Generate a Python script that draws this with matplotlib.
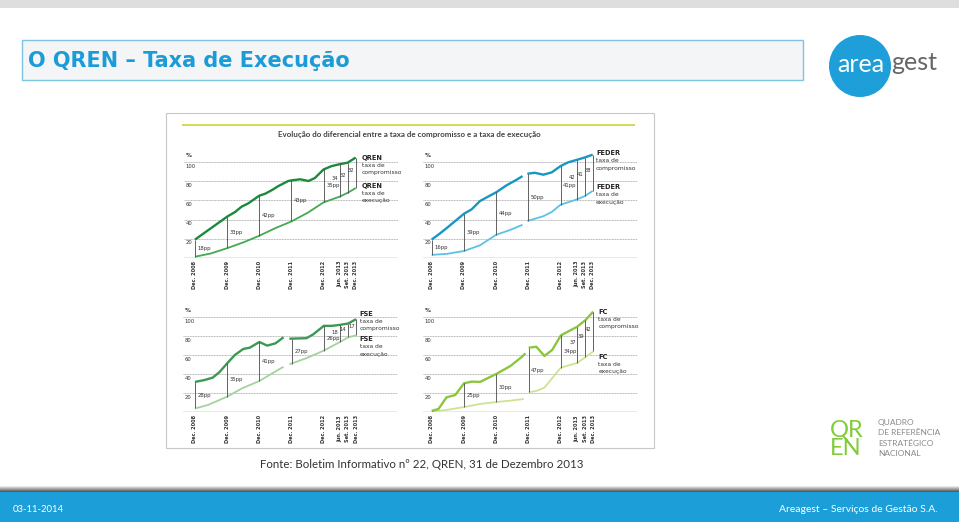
import matplotlib
matplotlib.use("Agg")
import matplotlib.pyplot as plt
import numpy as np
from matplotlib.patches import Rectangle, Circle

plt.rcParams["font.family"] = ["Liberation Sans Narrow", "DejaVu Sans"]

W, H = 959, 522

# dates in years after Dec. 2008
dates = [0, 1, 2, 3, 4, 4.5, 4.75, 5]
date_labels = ["Dec. 2008", "Dec. 2009", "Dec. 2010", "Dec. 2011", "Dec. 2012",
               "Jun. 2013", "Set. 2013", "Dec. 2013"]
y_ticks = [20, 40, 60, 80, 100]

# QREN
qren_comp_x = [0, 0.25, 0.5, 0.75, 1, 1.25, 1.45, 1.66, 2, 2.18, 2.4, 2.59, 2.9, 3, 3.27, 3.53, 3.73, 4, 4.25, 4.5, 4.75, 5]
qren_comp_y = [19, 25, 31, 37, 43, 48, 53.5, 57, 65, 67, 71, 75, 80.4, 81, 82.2, 80.4, 83.5, 92.5, 96, 98, 99.6, 105]
qren_exec_x = [0, 0.5, 1, 1.5, 2, 2.5, 3, 3.5, 4, 4.5, 4.75, 5]
qren_exec_y = [1, 4.5, 10, 16, 23, 31, 38, 47, 58, 64, 68, 73]
qren_pp = ["18pp", "33pp", "42pp", "43pp", "35pp", "34", "32", "32"]

# FEDER
feder_comp_x = [0, 0.26, 0.5, 0.75, 1, 1.24, 1.5, 1.75, 2, 2.33, 2.6, 2.82, None, 2.97, 3.2, 3.47, 3.73, 4, 4.24, 4.5, 4.75, 5]
feder_comp_y = [19, 25.5, 32, 39, 46, 50.7, 59.4, 64, 68.5, 76, 81, 85.5, None, 88, 89, 87, 89.5, 96, 100, 102.5, 105, 108]
feder_exec_x = [0, 0.47, 1, 1.5, 2, 2.43, 2.82, None, 2.97, 3.47, 3.73, 4, 4.5, 4.75, 5]
feder_exec_y = [3, 4, 7, 13, 24, 29, 34.5, None, 38.5, 43.5, 48, 55.5, 61, 64.5, 70]
feder_pp = ["16pp", "39pp", "44pp", "50pp", "41pp", "42", "41", "38"]

# FSE
fse_comp_x = [0, 0.3, 0.55, 0.75, 1, 1.24, 1.5, 1.7, 2, 2.24, 2.5, 2.75, None, 2.93, 3.46, 3.67, 4, 4.24, 4.5, 4.76, 5]
fse_comp_y = [32, 34, 36.5, 42, 51.6, 60.4, 66.7, 68, 74, 70.2, 72.6, 79, None, 77.5, 78, 82, 91, 91, 92, 93.5, 98]
fse_exec_x = [0, 0.4, 1, 1.45, 2, 2.4, 2.75, None, 2.93, 3.5, 4, 4.5, 4.76, 5]
fse_exec_y = [4, 7.7, 16.5, 25, 33, 41, 48, None, 50.5, 57.5, 65, 74, 79, 81]
fse_pp = ["28pp", "35pp", "41pp", "27pp", "26pp", "18", "14", "17"]

# FC
fc_comp_x = [0, 0.21, 0.46, 0.73, 1, 1.24, 1.5, 2, 2.44, 2.8, 2.9, None, 3, 3.24, 3.49, 3.73, 4, 4.5, 4.76, 5]
fc_comp_y = [1.5, 3.5, 15.8, 18.2, 30.5, 32.3, 32, 40.4, 48.8, 58.6, 62, None, 68, 69, 59.3, 65.6, 81, 90, 97, 106]
fc_exec_x = [0, 0.46, 1, 1.5, 2, 2.44, 2.85, None, 3, 3.24, 3.49, 4, 4.5, 4.76, 5]
fc_exec_y = [0.7, 2.5, 5.5, 8.8, 10.8, 12.3, 14, None, 21, 22.5, 26, 47, 52, 58, 64]
fc_pp = ["", "25pp", "30pp", "47pp", "34pp", "37", "39", "42"]


fig = plt.figure(figsize=(W / 100, H / 100), dpi=100)
fig.patch.set_facecolor("white")

# background axes in pixel coordinates
bg = fig.add_axes([0, 0, 1, 1])
bg.set_xlim(0, W)
bg.set_ylim(H, 0)
bg.axis("off")

# top grey band
bg.add_patch(Rectangle((0, 0), W, 8, color="#dedede", lw=0))

# title box
bg.add_patch(Rectangle((22, 40), 781, 40, facecolor="#f3f5f6", edgecolor="#7cc4e2", lw=1))
bg.text(28, 61, "O QREN – Taxa de Execução", fontsize=15, weight="bold", color="#1b9bd7",
        va="center", ha="left", family=["DejaVu Sans"])

# areagest logo
bg.add_patch(Circle((860, 66), 31, color="#1f9fda", lw=0))
bg.text(861, 64, "area", fontsize=18, color="white", ha="center", va="center",
        family=["Lato", "DejaVu Sans"])
bg.text(891, 63, "gest", fontsize=18, color="#666666", ha="left", va="center",
        family=["Lato", "DejaVu Sans"])

# image panel
bg.add_patch(Rectangle((166, 113), 488, 335, facecolor="white", edgecolor="#c8c8c8", lw=0.8))
bg.plot([183, 634], [125, 125], color="#d3da52", lw=1.4)
bg.text(409, 134.5, "Evolução do diferencial entre a taxa de compromisso e a taxa de execução",
        fontsize=5.8, color="#444444", ha="center", va="center", weight="bold",
        family=["Lato", "DejaVu Sans"])

# source
bg.text(422, 464, "Fonte: Boletim Informativo nº 22, QREN, 31 de Dezembro 2013",
        fontsize=8.3, color="#333333", ha="center", va="center", family=["Lato", "DejaVu Sans"])

# QREN logo
bg.text(830, 439, "QR\nEN", fontsize=17, color="#7fcc36", ha="left", va="center",
        family=["Lato", "DejaVu Sans"], linespacing=0.85)
for i, t in enumerate(["QUADRO", "DE REFERÊNCIA", "ESTRATÉGICO", "NACIONAL"]):
    bg.text(878, 422 + i * 10.5, t, fontsize=6, color="#8a8a8a", ha="left", va="center",
            family=["Lato", "DejaVu Sans"])

# footer
for i in range(6):
    bg.add_patch(Rectangle((0, 486 + i), W, 1, color="#404040", alpha=0.12 + i * 0.15, lw=0))
bg.add_patch(Rectangle((0, 492), W, 30, color="#1c9ed9", lw=0))
bg.text(13, 509, "03-11-2014", fontsize=6.8, color="white", va="center", ha="left",
        family=["Lato", "DejaVu Sans"])
bg.text(938, 510, "Areagest – Serviços de Gestão S.A.", fontsize=7.5, color="white",
        va="center", ha="right", family=["Lato", "DejaVu Sans"])


def arr(v):
    return np.array([np.nan if a is None else a for a in v], dtype=float)


def panel(geo, cx, cy, ex, ey, pp, name, c_comp, c_exec, leg_comp, leg_exec, leg_x):
    gx0, gx1, x0, xyr, base, unit = geo
    ytop = 118
    ax = fig.add_axes([gx0 / W, 1 - base / H, (gx1 - gx0) / W, ytop * unit / H])
    ax.patch.set_alpha(0)
    xl = ((gx0 - x0) / xyr, (gx1 - x0) / xyr)
    ax.set_xlim(*xl)
    ax.set_ylim(0, ytop)
    ax.axis("off")

    for v in y_ticks:
        ax.axhline(v, color="#9a9a9a", lw=0.5, ls=(0, (1.5, 0.8)))
        ax.text(xl[0] + 0.05, v - 1.5, str(v), fontsize=3.8, color="#333333",
                ha="left", va="top")
    ax.axhline(0, color="#555555", lw=0.9)
    ax.text(xl[0] + 0.05, 104, "%", fontsize=4.2, color="#333333", ha="left",
            va="bottom", weight="bold")

    cx, cy, ex, ey = arr(cx), arr(cy), arr(ex), arr(ey)
    ax.plot(ex, ey, color=c_exec, lw=1.3, solid_capstyle="butt")
    ax.plot(cx, cy, color=c_comp, lw=1.7, solid_capstyle="butt")

    mc, me = ~np.isnan(cx), ~np.isnan(ex)
    top = np.interp(dates, cx[mc], cy[mc])
    bot = np.interp(dates, ex[me], ey[me])
    ax.vlines(dates, bot, top, color="#4a4a4a", lw=0.6)

    for d, t, b, lab in zip(dates, top, bot, pp):
        if not lab:
            continue
        if lab.endswith("pp"):
            ax.text(d + 0.08, (t + b) / 2, lab, fontsize=3.8, color="#333333",
                    ha="left", va="center")
        else:
            ax.text(d - 0.04, b + 0.56 * (t - b), lab, fontsize=3.8, color="#333333",
                    ha="right", va="center")

    for d, lab in zip(dates, date_labels):
        ax.text(d, -3, lab, fontsize=3.6, color="#333333", rotation=90,
                ha="center", va="top", weight="bold", clip_on=False)

    for ly, (nm, t1, t2) in [(leg_comp, (name, "taxa de", "compromisso")),
                             (leg_exec, (name, "taxa de", "execução"))]:
        ax.text(leg_x, ly, nm, fontsize=4.8, weight="bold", color="#222222",
                ha="left", va="center", clip_on=False)
        ax.text(leg_x, ly - 8, t1, fontsize=4.3, color="#333333",
                ha="left", va="center", clip_on=False)
        ax.text(leg_x, ly - 16, t2, fontsize=4.3, color="#333333",
                ha="left", va="center", clip_on=False)
    return ax


panel((184, 398, 195, 32.14, 257.7, 0.954), qren_comp_x, qren_comp_y, qren_exec_x, qren_exec_y,
      qren_pp, "QREN", "#1b8a3c", "#43aa50", 105, 75.5, 5.19)
panel((423, 637, 431.7, 32.2, 257.7, 0.954), feder_comp_x, feder_comp_y, feder_exec_x, feder_exec_y,
      feder_pp, "FEDER", "#1896c4", "#5bc2e4", 110, 74, 5.1)
panel((183, 397, 195, 32.2, 412.3, 0.95), fse_comp_x, fse_comp_y, fse_exec_x, fse_exec_y,
      fse_pp, "FSE", "#3b9a52", "#a3d39d", 104, 77, 5.12)
panel((423, 637, 431.7, 32.3, 412.3, 0.95), fc_comp_x, fc_comp_y, fc_exec_x, fc_exec_y,
      fc_pp, "FC", "#8cc63f", "#cde394", 106, 58.5, 5.16)

fig.savefig("out.png", dpi=100)
